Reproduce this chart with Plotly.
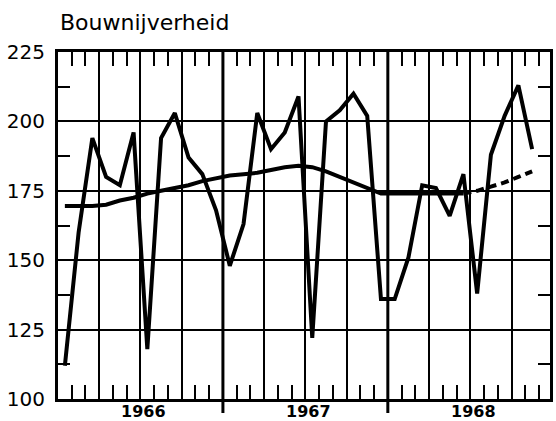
import plotly.graph_objects as go

# Monthly index (0 = Jan 1966); points plotted at mid-month
months = list(range(35))  # Jan 1966 .. Nov 1968
values = [112, 160, 194, 180, 177, 196, 118, 194, 203, 187, 181, 168,
          148, 163, 203, 190, 196, 209, 122, 200, 204, 210, 202, 136,
          136, 151, 177, 176, 166, 181, 138, 188, 202, 213, 190]
trend_solid = [169.5, 169.5, 169.5, 170, 171.5, 172.5, 174, 175, 176, 177, 178.5, 179.5,
               180.5, 181, 181.5, 182.5, 183.5, 184, 183.5, 182, 180, 178, 176, 174,
               174, 174, 174, 174, 174, 174]
trend_dashed_months = [29, 30, 31, 32, 33, 34]
trend_dashed = [174, 175, 176.5, 178, 180, 182]
year_labels = ["1966", "1967", "1968"]
year_centers = [6, 18, 30]
year_bounds = [12, 24]
title_text = "Bouwnijverheid"

x_vals = [m + 0.5 for m in months]

fig = go.Figure()
fig.add_trace(go.Scatter(x=[m + 0.5 for m in range(len(trend_solid))], y=trend_solid,
                         mode="lines", line=dict(color="#000", width=4),
                         hoverinfo="skip", showlegend=False))
fig.add_trace(go.Scatter(x=[m + 0.5 for m in trend_dashed_months], y=trend_dashed,
                         mode="lines", line=dict(color="#000", width=4, dash="8px,5px"),
                         hoverinfo="skip", showlegend=False))
fig.add_trace(go.Scatter(x=x_vals, y=values, mode="lines",
                         line=dict(color="#000", width=4), showlegend=False))

for yb in year_bounds:
    fig.add_shape(type="line", xref="x", yref="paper", x0=yb, x1=yb,
                  y0=-0.04, y1=1, line=dict(color="#000", width=3), layer="below")

for lab, c in zip(year_labels, year_centers):
    fig.add_annotation(text=lab, x=c + 0.2, xref="x", y=0, yref="paper",
                       yanchor="top", yshift=-1, showarrow=False,
                       font=dict(family="DejaVu Sans", size=16, color="#000", weight="bold"))

fig.add_annotation(text=title_text, x=0, xref="paper", xanchor="left", y=1, yref="paper",
                   yanchor="bottom", yshift=15, showarrow=False,
                   font=dict(family="DejaVu Sans", size=22, color="#000"))

fig.update_layout(
    width=556, height=421,
    margin=dict(l=58, r=3, t=52, b=22),
    paper_bgcolor="white", plot_bgcolor="white",
    xaxis=dict(range=[0, 35.8], tick0=0, dtick=3, showgrid=True, gridcolor="#000",
               gridwidth=1.5, showticklabels=False, ticks="inside", ticklen=14,
               tickcolor="#000", tickwidth=1.5,
               showline=True, linecolor="#000", linewidth=3, mirror="allticks",
               zeroline=False,
               minor=dict(dtick=1, tick0=0, ticks="inside", ticklen=14,
                          tickcolor="#000", tickwidth=1.5, showgrid=False)),
    yaxis=dict(range=[100, 225], tick0=100, dtick=25, showgrid=True, gridcolor="#000",
               gridwidth=1.5, ticks="", showline=True, linecolor="#000", linewidth=3,
               mirror="allticks", zeroline=False,
               tickfont=dict(family="DejaVu Sans", size=20, color="#000"),
               ticklabelstandoff=6,
               minor=dict(dtick=12.5, tick0=100, ticks="inside", ticklen=12,
                          tickcolor="#000", tickwidth=1.5, showgrid=False)),
)

fig.write_html("out.html", config={"displayModeBar": False},
               post_script="document.body.style.margin='0';")
